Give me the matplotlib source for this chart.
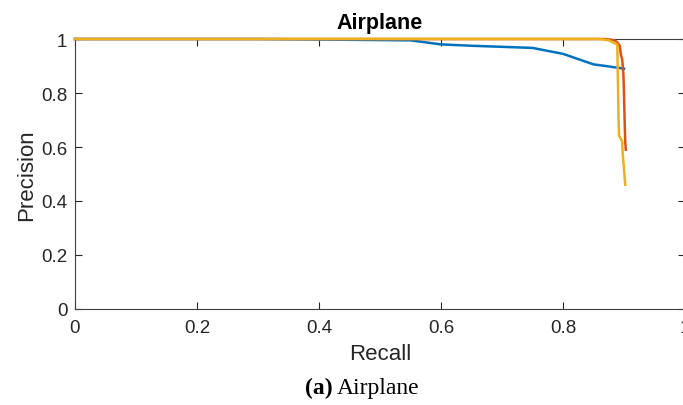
import matplotlib
matplotlib.use('Agg')
from matplotlib import pyplot as plt

# Precision-recall curves
blue_r = [0.0, 0.3, 0.55, 0.6, 0.65, 0.75, 0.8, 0.85, 0.87, 0.9]
blue_p = [1.0, 1.0, 0.995, 0.98, 0.975, 0.967, 0.945, 0.906, 0.9, 0.89]

red_r = [0.0, 0.5, 0.85, 0.87, 0.885, 0.89, 0.893, 0.895, 0.897, 0.899, 0.9, 0.901, 0.902, 0.903]
red_p = [1.0, 1.0, 1.0, 1.0, 0.995, 0.985, 0.975, 0.94, 0.926, 0.87, 0.8, 0.7, 0.62, 0.59]

yel_r = [0.0, 0.5, 0.86, 0.875, 0.889, 0.89, 0.891, 0.892, 0.895, 0.897, 0.898, 0.9, 0.902]
yel_p = [1.0, 1.0, 1.0, 0.995, 0.98, 0.85, 0.71, 0.64, 0.63, 0.62, 0.57, 0.52, 0.46]

xticks = [0, 0.2, 0.4, 0.6, 0.8, 1]
yticks = [0, 0.2, 0.4, 0.6, 0.8, 1]
ticklabels = ['0', '0.2', '0.4', '0.6', '0.8', '1']

plt.rcParams['font.family'] = ['Liberation Sans', 'DejaVu Sans']

fig = plt.figure(figsize=(6.83, 4.06), dpi=100)
ax = fig.add_axes([75/683, 96/406, 610/683, 270/406])

ax.plot(blue_r, blue_p, color='#0072BD', lw=1.8, zorder=3, clip_on=False)
ax.plot(red_r, red_p, color='#D95319', lw=1.8, zorder=3, clip_on=False)
ax.plot(yel_r, yel_p, color='#EDB120', lw=1.8, zorder=3, clip_on=False)

ax.set_xlim(0, 1)
ax.set_ylim(0, 1)
ax.set_xticks(xticks)
ax.set_xticklabels(ticklabels)
ax.set_yticks(yticks)
ax.set_yticklabels(ticklabels)
ax.tick_params(direction='in', length=5, width=0.8, colors='#262626',
               labelsize=13.5, top=True, right=True)
ax.tick_params(axis='x', pad=7)
ax.tick_params(axis='y', pad=5.5)
for s in ax.spines.values():
    s.set_color('#404040')
    s.set_linewidth(0.8)
    s.set_zorder(2)

ax.set_xlabel('Recall', fontsize=16, color='#262626', labelpad=5)
ax.set_ylabel('Precision', fontsize=16, color='#262626', labelpad=3)
ax.set_title('Airplane', fontsize=15.5, fontweight='bold', color='black', pad=8)

fig.text(333/683, 12/406, '(a)', fontsize=17, fontweight='bold', family='Liberation Serif',
         ha='right', va='baseline')
fig.text(337/683, 12/406, 'Airplane', fontsize=17, family='Liberation Serif',
         ha='left', va='baseline')

fig.savefig('out.png', dpi=100)
